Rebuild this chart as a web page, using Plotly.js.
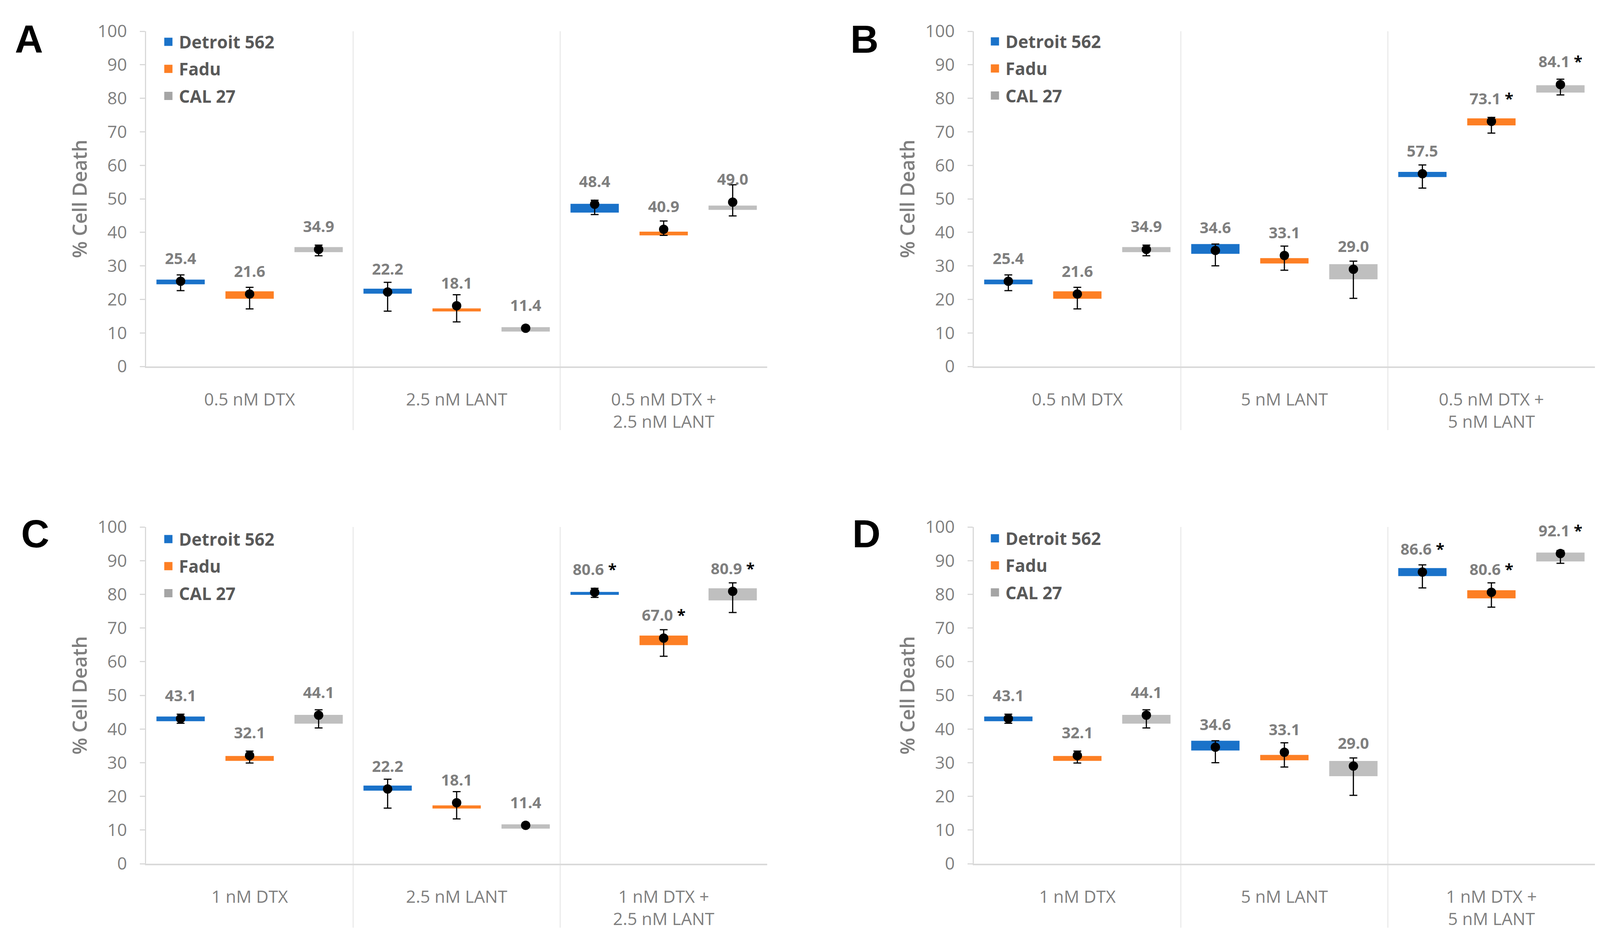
<!DOCTYPE html>
<html>
<head>
<meta charset="utf-8">
<script src="https://cdn.plot.ly/plotly-3.0.1.min.js"></script>
<style>
  html, body { margin: 0; padding: 0; background: #ffffff; }
  #chart { width: 4117px; height: 2414px; }
</style>
</head>
<body>
<div id="chart"></div>
<script>
// ---------------- data ----------------
const seriesNames = ['Detroit 562', 'Fadu', 'CAL 27'];

// Panel A  (rows: Detroit 562, Fadu, CAL 27; columns: categories)
const categoriesA = ['0.5 nM DTX', '2.5 nM LANT', '0.5 nM DTX +<br>2.5 nM LANT'];
const meanA    = [[25.4, 22.2, 48.4], [21.6, 18.1, 40.9], [34.9, 11.4, 49.0]];
const boxLowA  = [[24.5, 21.7, 45.9], [20.2, 16.4, 39.1], [34.1, 10.4, 46.7]];
const boxHighA = [[25.9, 23.2, 48.5], [22.4, 17.3, 40.2], [35.6, 11.7, 48.0]];
const errLowA  = [[22.6, 16.5, 45.3], [17.15, 13.3, 39.1], [33.0, 10.8, 44.9]];
const errHighA = [[27.3, 25.1, 49.6], [23.6, 21.4, 43.4], [36.2, 12.0, 54.2]];
const sigA     = [[false, false, false], [false, false, false], [false, false, false]];

// Panel B
const categoriesB = ['0.5 nM DTX', '5 nM LANT', '0.5 nM DTX +<br>5 nM LANT'];
const meanB    = [[25.4, 34.6, 57.5], [21.6, 33.1, 73.1], [34.9, 29.0, 84.1]];
const boxLowB  = [[24.5, 33.6, 56.5], [20.2, 30.7, 71.9], [34.1, 26.0, 81.7]];
const boxHighB = [[25.9, 36.5, 58.05], [22.4, 32.3, 74.0], [35.6, 30.5, 83.9]];
const errLowB  = [[22.6, 30.0, 53.2], [17.15, 28.7, 69.6], [33.0, 20.3, 81.0]];
const errHighB = [[27.3, 36.5, 60.1], [23.6, 35.9, 74.3], [36.2, 31.4, 85.7]];
const sigB     = [[false, false, false], [false, false, true], [false, false, true]];

// Panel C
const categoriesC = ['1 nM DTX', '2.5 nM LANT', '1 nM DTX +<br>2.5 nM LANT'];
const meanC    = [[43.1, 22.2, 80.6], [32.1, 18.1, 67.0], [44.1, 11.4, 80.9]];
const boxLowC  = [[42.3, 21.7, 79.85], [30.55, 16.4, 64.9], [41.6, 10.4, 78.2]];
const boxHighC = [[43.7, 23.2, 80.7], [32.0, 17.3, 67.75], [44.2, 11.7, 81.8]];
const errLowC  = [[41.7, 16.5, 79.1], [29.9, 13.3, 61.6], [40.3, 10.8, 74.6]];
const errHighC = [[44.4, 25.1, 81.8], [33.45, 21.4, 69.5], [45.7, 12.0, 83.4]];
const sigC     = [[false, false, true], [false, false, true], [false, false, true]];

// Panel D
const categoriesD = ['1 nM DTX', '5 nM LANT', '1 nM DTX +<br>5 nM LANT'];
const meanD    = [[43.1, 34.6, 86.6], [32.1, 33.1, 80.6], [44.1, 29.0, 92.1]];
const boxLowD  = [[42.3, 33.6, 85.4], [30.55, 30.7, 78.8], [41.6, 26.0, 89.75]];
const boxHighD = [[43.7, 36.5, 87.8], [32.0, 32.3, 81.2], [44.2, 30.5, 92.4]];
const errLowD  = [[41.7, 30.0, 81.9], [29.9, 28.7, 76.2], [40.3, 20.3, 89.2]];
const errHighD = [[44.4, 36.5, 88.75], [33.45, 35.9, 83.4], [45.7, 31.4, 93.0]];
const sigD     = [[false, false, true], [false, false, true], [false, false, true]];

const panelLetters = ['A', 'B', 'C', 'D'];

// ---------------- styling ----------------
const boxColors    = ['#1a72c9', '#fd7f24', '#bfbfbf'];
const legendColors = ['#1a72c9', '#fd7f24', '#a5a5a5'];
const greyText = '#7f7f7f';

const panels = [
  {cats: categoriesA, mean: meanA, lo: boxLowA, hi: boxHighA, eLo: errLowA, eHi: errHighA, sig: sigA},
  {cats: categoriesB, mean: meanB, lo: boxLowB, hi: boxHighB, eLo: errLowB, eHi: errHighB, sig: sigB},
  {cats: categoriesC, mean: meanC, lo: boxLowC, hi: boxHighC, eLo: errLowC, eHi: errHighC, sig: sigC},
  {cats: categoriesD, mean: meanD, lo: boxLowD, hi: boxHighD, eLo: errLowD, eHi: errHighD, sig: sigD}
];

const W = 4117, H = 2414;
const xDomLeft  = [374 / W, 1964 / W];
const xDomRight = [2493 / W, 4083 / W];
const yDomTop    = [1 - 938 / H, 1 - 80 / H];
const yDomBottom = [1 - 2211 / H, 1 - 1349 / H];
const xDoms = [xDomLeft, xDomRight, xDomLeft, xDomRight];
const yDoms = [yDomTop, yDomTop, yDomBottom, yDomBottom];

const legendPos = [
  {x: 404 / W, y: 1 - 72 / H},
  {x: 2520 / W, y: 1 - 71 / H},
  {x: 404 / W, y: 1 - 1345 / H},
  {x: 2520 / W, y: 1 - 1343 / H}
];
const letterPos = [
  {x: 74 / W, y: 1 - 100 / H},
  {x: 2213 / W, y: 1 - 100 / H},
  {x: 90 / W, y: 1 - 1366 / H},
  {x: 2218 / W, y: 1 - 1366 / H}
];

const starHTML = '<span style="color:#000000"> *</span>';

const traces = [];
const layout = {
  width: W, height: H,
  margin: {l: 0, r: 0, t: 0, b: 0},
  paper_bgcolor: '#ffffff', plot_bgcolor: '#ffffff',
  barmode: 'group', bargap: 0, bargroupgap: 0.3,
  scattermode: 'group', scattergap: 0,
  showlegend: true,
  shapes: [], annotations: [],
  font: {family: 'Open Sans', color: greyText}
};

panels.forEach((p, pi) => {
  const sfx = pi === 0 ? '' : String(pi + 1);
  const xa = 'x' + sfx, ya = 'y' + sfx;
  const legendId = 'legend' + sfx;

  seriesNames.forEach((name, si) => {
    const og = 'g' + si;
    const mean = p.mean[si];
    // floating box
    traces.push({
      type: 'bar', x: p.cats, base: p.lo[si],
      y: p.hi[si].map((h, i) => h - p.lo[si][i]),
      xaxis: xa, yaxis: ya, offsetgroup: og,
      marker: {color: boxColors[si], line: {width: 0}},
      showlegend: false, hoverinfo: 'skip', name: name
    });
    // mean point with error bars
    traces.push({
      type: 'scatter', mode: 'markers', x: p.cats, y: mean,
      xaxis: xa, yaxis: ya, offsetgroup: og,
      marker: {color: '#000000', size: 24},
      error_y: {
        type: 'data', symmetric: false,
        array: p.eHi[si].map((v, i) => v - mean[i]),
        arrayminus: mean.map((m, i) => m - p.eLo[si][i]),
        color: '#000000', thickness: 3, width: 10
      },
      showlegend: false, hoverinfo: 'skip', name: name, cliponaxis: false
    });
    // value labels
    traces.push({
      type: 'scatter', mode: 'markers+text', x: p.cats, y: mean,
      xaxis: xa, yaxis: ya, offsetgroup: og,
      text: mean.map((m, i) => m.toFixed(1) + (p.sig[si][i] ? starHTML : '')),
      textposition: 'top center',
      textfont: {family: 'Open Sans', size: 40, color: greyText, weight: 700},
      marker: {size: 53, color: 'rgba(0,0,0,0)'},
      showlegend: false, hoverinfo: 'skip', name: name, cliponaxis: false
    });
    // legend entry
    traces.push({
      type: 'scatter', mode: 'markers', x: [null], y: [null],
      xaxis: xa, yaxis: ya, offsetgroup: og,
      name: name, legend: legendId, legendgroup: 'p' + pi + 's' + si,
      marker: {symbol: 'square', size: 30, color: legendColors[si], line: {color: legendColors[si], width: 5}},
      showlegend: true, hoverinfo: 'skip'
    });
  });

  layout['xaxis' + sfx] = {
    type: 'category', domain: xDoms[pi], anchor: ya,
    showline: true, linecolor: '#d9d9d9', linewidth: 4,
    ticks: '', showgrid: false, zeroline: false,
    tickfont: {family: 'Open Sans', size: 44, color: greyText},
    ticklabelstandoff: 43, fixedrange: true
  };
  layout['yaxis' + sfx] = {
    domain: yDoms[pi], anchor: xa, range: [0, 100], tick0: 0, dtick: 10,
    showline: true, linecolor: '#d9d9d9', linewidth: 3,
    ticks: 'outside', ticklen: 13, tickwidth: 3, tickcolor: '#d9d9d9',
    showgrid: false, zeroline: false,
    tickfont: {family: 'Open Sans', size: 44, color: greyText},
    ticklabelstandoff: 24,
    title: {text: '% Cell Death', font: {family: 'Open Sans', size: 50, color: greyText, weight: 600}, standoff: 12},
    fixedrange: true
  };
  layout[legendId] = {
    x: legendPos[pi].x, y: legendPos[pi].y, xanchor: 'left', yanchor: 'top',
    bgcolor: 'rgba(0,0,0,0)', borderwidth: 0, itemwidth: 44,
    font: {family: 'Open Sans', size: 44, color: '#595959', weight: 700},
    traceorder: 'grouped', tracegroupgap: 9, itemclick: false, itemdoubleclick: false
  };

  // category separators
  for (let k = 1; k < p.cats.length; k++) {
    layout.shapes.push({
      type: 'line', xref: xa, yref: ya + ' domain',
      x0: k - 0.5, x1: k - 0.5, y0: -0.19, y1: 1,
      line: {color: '#e3e3e3', width: 2}, layer: 'below'
    });
  }
  // panel letter
  layout.annotations.push({
    text: panelLetters[pi], xref: 'paper', yref: 'paper',
    x: letterPos[pi].x, y: letterPos[pi].y, xanchor: 'center', yanchor: 'middle',
    showarrow: false,
    font: {family: 'Liberation Sans', size: 100, color: '#000000', weight: 700}
  });
});

Plotly.newPlot('chart', traces, layout, {displayModeBar: false, staticPlot: true});
</script>
</body>
</html>
